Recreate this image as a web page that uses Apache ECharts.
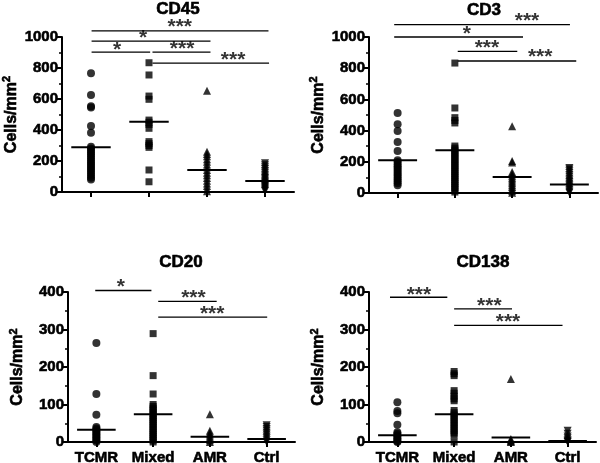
<!DOCTYPE html>
<html><head><meta charset="utf-8">
<script src="https://cdn.jsdelivr.net/npm/echarts@6/dist/echarts.min.js"></script>
<style>html,body{margin:0;padding:0;background:#fff}#c{width:600px;height:463px}</style>
</head><body><div id="c"></div>
<script>
const categories = ['TCMR', 'Mixed', 'AMR', 'Ctrl'];

// ---- CD45 ----
const cd45_TCMR  = [766, 626, 553, 545, 426, 383, 292, 280, 268, 255, 243, 230, 218, 205, 192, 180, 168, 155, 143, 130, 118, 105, 92, 80];
const cd45_Mixed = [834, 755, 619, 598, 464, 450, 436, 411, 325, 312, 300, 288, 142, 66];
const cd45_AMR   = [654, 260, 245, 230, 212, 195, 178, 160, 142, 125, 108, 90, 72, 55, 38, 20, 5];
const cd45_Ctrl  = [185, 172, 160, 148, 136, 124, 112, 100, 90, 80, 70, 62, 54, 46, 38, 30, 22, 14, 6];
const cd45_median = [288, 454, 142, 71];
const cd45_yMax = 1000, cd45_yStep = 200;
const cd45_brackets = [[0.01, 3.06, 1039], [0.01, 2.06, 974], [0.01, 1.02, 903], [1.06, 2.06, 903], [1.06, 3.07, 832]];
const cd45_stars = [['***', 1.53, 1092], ['*', 0.90, 1017], ['*', 0.45, 942], ['***', 1.57, 945], ['***', 2.45, 877]];

// ---- CD3 ----
const cd3_TCMR  = [513, 440, 397, 327, 269, 210, 198, 185, 172, 160, 148, 135, 122, 110, 98, 86, 74, 62, 49];
const cd3_Mixed = [833, 545, 483, 465, 449, 301, 288, 275, 262, 250, 237, 224, 212, 199, 186, 174, 161, 148, 136, 123, 110, 98, 85, 72, 60, 47, 34, 21, 6];
const cd3_AMR   = [428, 205, 195, 135, 122, 110, 98, 86, 74, 62, 50, 38, 26, 14, 2];
const cd3_Ctrl  = [160, 150, 140, 128, 116, 104, 92, 80, 70, 60, 50, 40, 30, 20, 10, 2];
const cd3_median = [210, 274, 103, 54];
const cd3_yMax = 1000, cd3_yStep = 200;
const cd3_brackets = [[-0.06, 3.01, 1079], [-0.06, 2.19, 1000], [1.05, 2.09, 908], [1.05, 3.12, 846]];
const cd3_stars = [['***', 2.26, 1126], ['*', 1.21, 1043], ['***', 1.56, 953], ['***', 2.49, 896]];

// ---- CD20 ----
const cd20_TCMR  = [264, 128, 73, 40, 36, 32, 28, 24, 20, 16, 12, 8, 4, 0];
const cd20_Mixed = [289, 177, 128, 100, 95, 90, 85, 80, 75, 70, 65, 60, 55, 50, 45, 40, 35, 30, 25, 20, 15, 10, 5, 0];
const cd20_AMR   = [74, 30, 25, 20, 15, 10, 5, 0];
const cd20_Ctrl  = [45, 40, 35, 30, 25, 20, 15, 10, 5, 0];
const cd20_median = [33, 74, 14, 8];
const cd20_yMax = 400, cd20_yStep = 100;
const cd20_brackets = [[-0.02, 0.97, 404], [1.09, 2.12, 375], [1.09, 3.01, 333]];
const cd20_stars = [['*', 0.43, 424], ['***', 1.71, 395], ['***', 2.04, 351]];

// ---- CD138 ----
const cd138_TCMR  = [106, 83, 77, 46, 26, 22, 18, 14, 10, 6, 2, 0];
const cd138_Mixed = [188, 182, 177, 137, 130, 122, 115, 110, 84, 78, 72, 66, 60, 54, 48, 42, 36, 30, 24, 18, 0];
const cd138_AMR   = [168, 8, 5, 2, 0];
const cd138_Ctrl  = [30, 22, 15, 10, 5, 2, 0];
const cd138_median = [18, 74, 12, 3];
const cd138_yMax = 400, cd138_yStep = 100;
const cd138_brackets = [[-0.13, 0.88, 386], [1.0, 2.02, 355], [1.0, 2.91, 311]];
const cd138_stars = [['***', 0.38, 402], ['***', 1.62, 372], ['***', 1.95, 329]];

const yAxisName = 'Cells/mm';
const yAxisNameSup = '2';

const F = 'Liberation Sans';
const HEAVY = {textBorderColor: '#000', textBorderWidth: 0.6};

const panels = [
  {name: 'CD45', groups: [cd45_TCMR, cd45_Mixed, cd45_AMR, cd45_Ctrl], median: cd45_median, yMax: cd45_yMax, yStep: cd45_yStep, brackets: cd45_brackets, stars: cd45_stars,
   grid: {left: 62, top: 37, width: 232, height: 155}, title: [178, 9], showX: false},
  {name: 'CD3', groups: [cd3_TCMR, cd3_Mixed, cd3_AMR, cd3_Ctrl], median: cd3_median, yMax: cd3_yMax, yStep: cd3_yStep, brackets: cd3_brackets, stars: cd3_stars,
   grid: {left: 369, top: 37, width: 229, height: 156}, title: [484, 10], showX: false},
  {name: 'CD20', groups: [cd20_TCMR, cd20_Mixed, cd20_AMR, cd20_Ctrl], median: cd20_median, yMax: cd20_yMax, yStep: cd20_yStep, brackets: cd20_brackets, stars: cd20_stars,
   grid: {left: 68, top: 292, width: 227, height: 150}, title: [181, 262], showX: true},
  {name: 'CD138', groups: [cd138_TCMR, cd138_Mixed, cd138_AMR, cd138_Ctrl], median: cd138_median, yMax: cd138_yMax, yStep: cd138_yStep, brackets: cd138_brackets, stars: cd138_stars,
   grid: {left: 369, top: 292, width: 227, height: 150}, title: [483, 262], showX: true}
];

const symbols = ['circle', 'rect', 'triangle', 'triangle'];
const symRot = [0, 0, 0, 180];
const symSize = [8, 7, 8, 8];

const grids = [], xAxes = [], yAxes = [], series = [], graphics = [];
panels.forEach((p, i) => {
  grids.push(Object.assign({outerBoundsMode: 'none', containLabel: false}, p.grid));
  xAxes.push({
    gridIndex: i, type: 'category', data: categories, position: 'bottom',
    axisLine: {show: true, onZero: false, lineStyle: {color: '#000', width: 2}},
    axisTick: {show: true, alignWithLabel: true, length: 5, lineStyle: {color: '#000', width: 2}},
    axisLabel: Object.assign({show: p.showX, interval: 0, color: '#000', fontSize: 15, fontWeight: 'bold', fontFamily: F, margin: 8}, HEAVY),
    splitLine: {show: false}
  });
  xAxes.push({gridIndex: i, type: 'value', min: -0.5, max: 3.5, show: false, position: 'top'});
  yAxes.push({
    gridIndex: i, type: 'value', min: 0, max: p.yMax, interval: p.yStep,
    axisLine: {show: true, onZero: false, lineStyle: {color: '#000', width: 2}},
    axisTick: {show: true, length: 5, lineStyle: {color: '#000', width: 2}},
    minorTick: {show: true, splitNumber: 2, length: 3, lineStyle: {color: '#000', width: 1.5}},
    splitLine: {show: false},
    axisLabel: Object.assign({color: '#000', fontSize: 15, fontWeight: 'bold', fontFamily: F, margin: 4, formatter: v => String(v)}, HEAVY),
    name: '{a|' + yAxisName + '}{b|' + yAxisNameSup + '}', nameLocation: 'middle', nameRotate: 90, nameGap: 42,
    nameTextStyle: {
      color: '#000', fontFamily: F, fontWeight: 'bold',
      rich: {
        a: Object.assign({fontSize: 16, fontWeight: 'bold', fontFamily: F, color: '#000', verticalAlign: 'bottom', lineHeight: 18}, HEAVY),
        b: Object.assign({fontSize: 11, fontWeight: 'bold', fontFamily: F, color: '#000', verticalAlign: 'top', lineHeight: 18, padding: [0, 0, 8, 0]}, HEAVY)
      }
    }
  });
  p.groups.forEach((vals, g) => {
    series.push({
      type: 'scatter', xAxisIndex: 2 * i, yAxisIndex: i, symbol: symbols[g], symbolRotate: symRot[g], symbolSize: symSize[g],
      itemStyle: {color: '#000'}, data: vals.map(v => [g, v]), silent: true, z: 3
    });
  });
  p.median.forEach((m, g) => {
    series.push({
      type: 'line', xAxisIndex: 2 * i + 1, yAxisIndex: i, data: [[g - 0.34, m], [g + 0.34, m]], symbol: 'none',
      lineStyle: {color: '#000', width: 2}, clip: false, silent: true, z: 4
    });
  });
  p.brackets.forEach(b => {
    series.push({
      type: 'line', xAxisIndex: 2 * i + 1, yAxisIndex: i, data: [[b[0], b[2]], [b[1], b[2]]], symbol: 'none',
      lineStyle: {color: '#000', width: 1.3}, clip: false, silent: true, z: 4
    });
  });
  series.push({
    type: 'scatter', xAxisIndex: 2 * i + 1, yAxisIndex: i, symbolSize: 1, itemStyle: {color: 'rgba(0,0,0,0)'},
    clip: false, silent: true, z: 5,
    data: p.stars.map(s => ({name: s[0], value: [s[1], s[2]]})),
    label: {show: true, position: 'inside', formatter: '{b}', color: '#000', fontSize: 21, fontWeight: 'bold', fontFamily: F, offset: [0, 4]}
  });
  graphics.push({
    type: 'text', x: p.title[0], y: p.title[1], silent: true,
    style: {text: p.name, fill: '#000', fontSize: 17, fontWeight: 'bold', fontFamily: F, align: 'center', verticalAlign: 'middle', stroke: '#000', lineWidth: 0.6}
  });
});

const chart = echarts.init(document.getElementById('c'), null, {renderer: 'canvas'});
chart.setOption({
  animation: false,
  backgroundColor: '#fff',
  grid: grids, xAxis: xAxes, yAxis: yAxes, series: series, graphic: graphics
});
</script></body></html>
